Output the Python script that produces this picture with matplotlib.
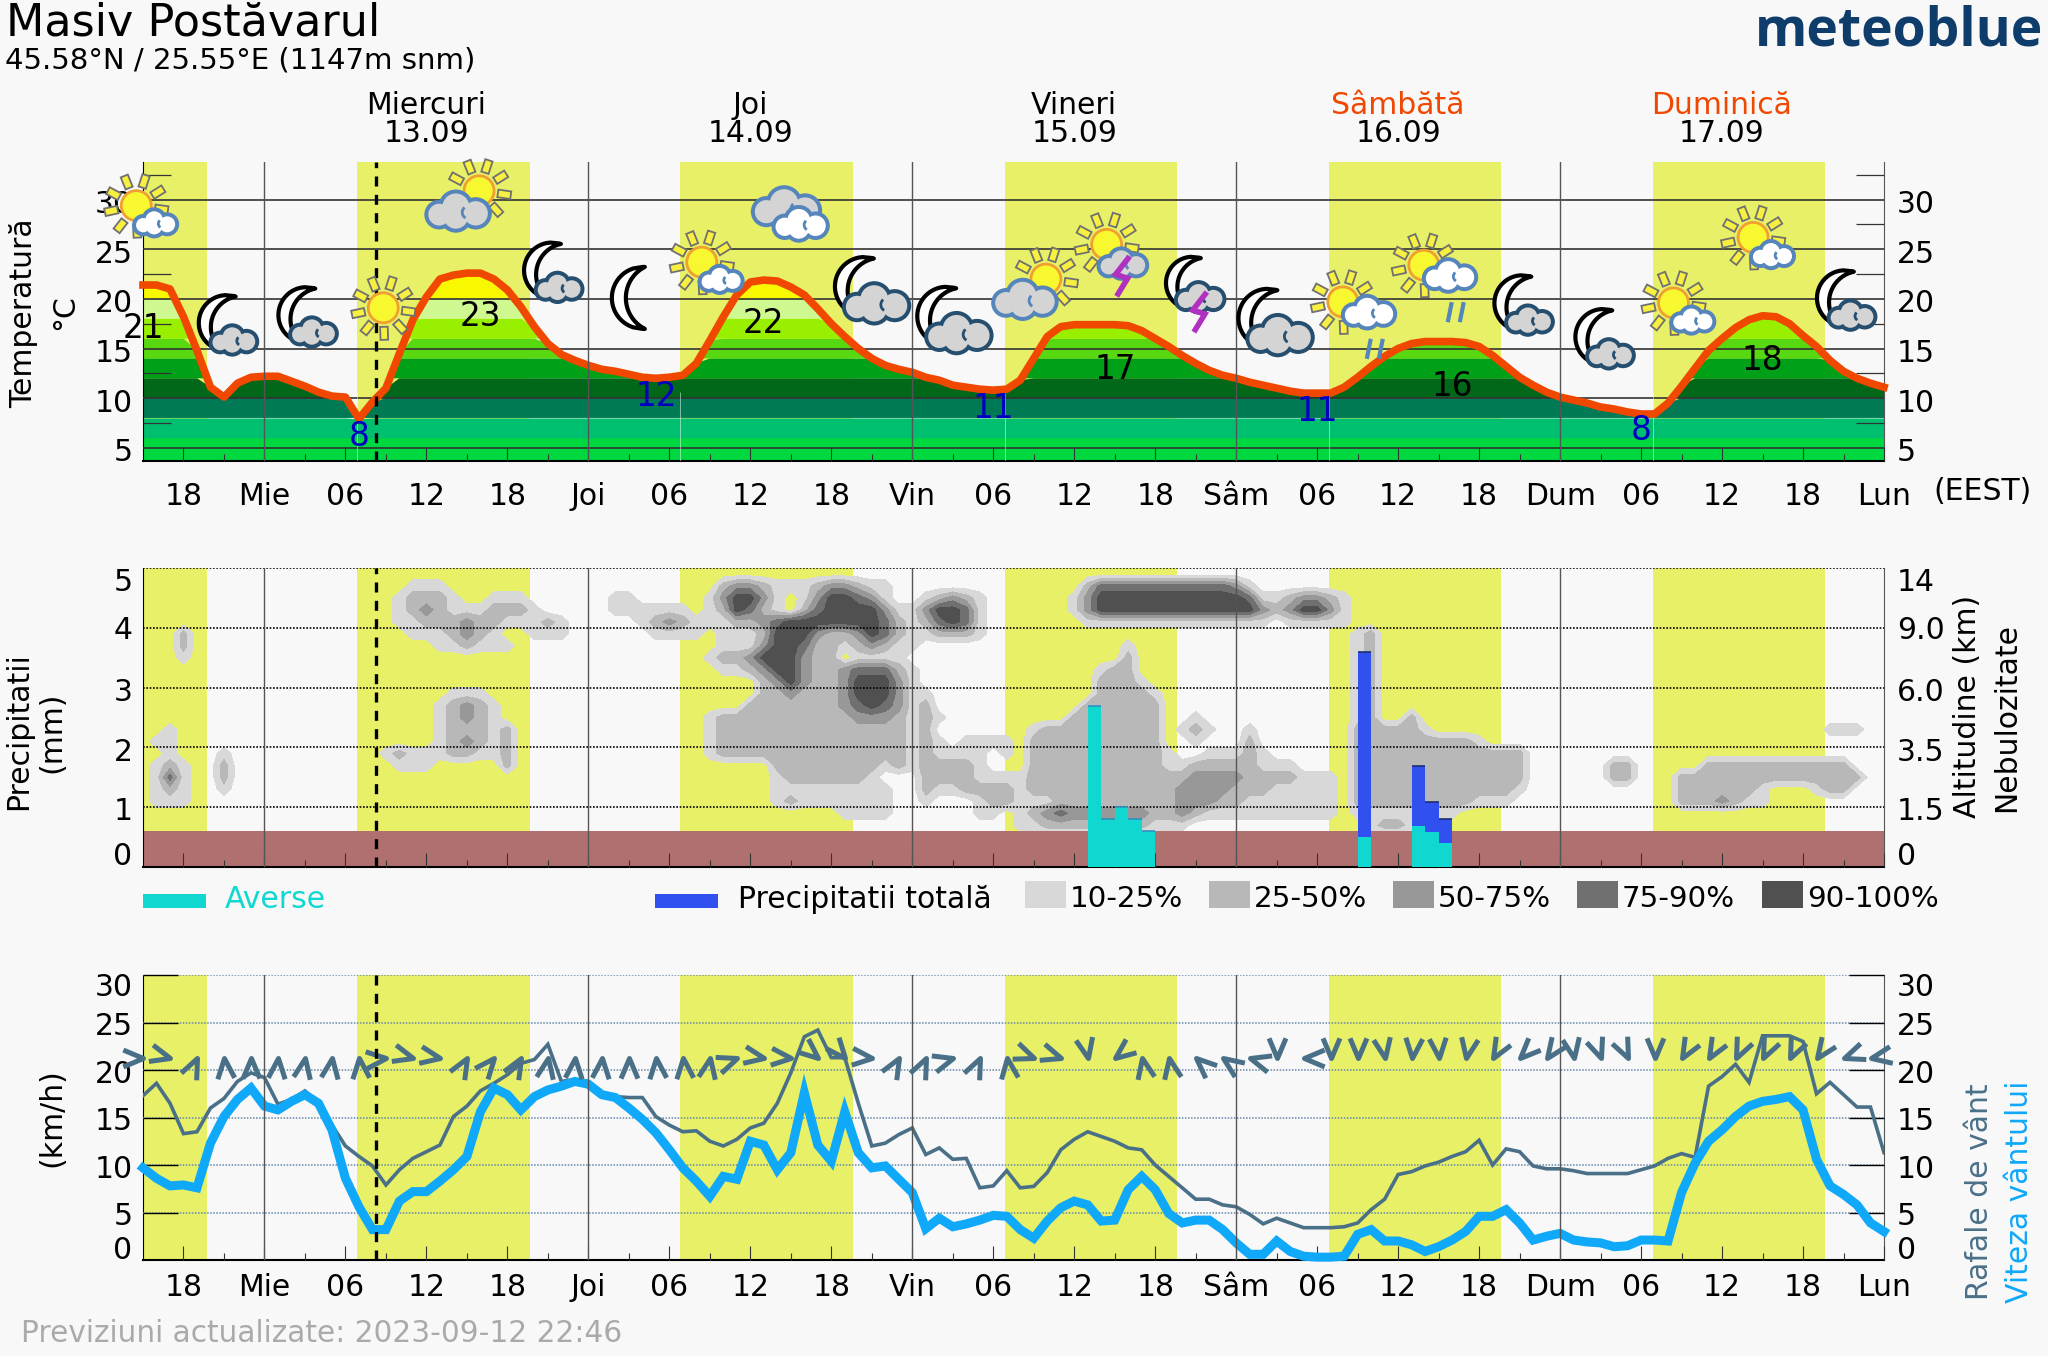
import numpy as np
import matplotlib
matplotlib.use('Agg')
import matplotlib.pyplot as plt
from matplotlib.markers import MarkerStyle
from matplotlib.patches import Arc, Circle, Polygon, Rectangle
from matplotlib.path import Path

# hours are counted from Wednesday 13.09 00:00
first_hour = -9
temp = [21.4, 21.4, 21.0, 18.2, 14.8, 11.1, 10.1, 11.5, 12.1, 12.2, 12.2, 11.7, 11.2, 10.6, 10.2, 10.1, 7.9, 9.6,
        11.0, 14.5, 17.9, 20.2, 22.0, 22.4, 22.6, 22.6, 22.0, 20.9, 19.2, 17.2, 15.5, 14.4, 13.8, 13.3, 12.9, 12.7,
        12.4, 12.1, 12.0, 12.1, 12.3, 13.5, 15.8, 18.2, 20.4, 21.7, 21.9, 21.8, 21.2, 20.4, 19.0, 17.5, 16.2, 15.0,
        14.0, 13.3, 12.9, 12.6, 12.1, 11.8, 11.3, 11.1, 10.9, 10.8, 10.9, 11.8, 14.0, 16.2, 17.2, 17.4, 17.4, 17.4,
        17.4, 17.3, 16.8, 16.0, 15.2, 14.3, 13.5, 12.8, 12.3, 12.0, 11.6, 11.3, 11.0, 10.7, 10.5, 10.5, 10.5, 11.1,
        12.1, 13.2, 14.2, 15.0, 15.5, 15.7, 15.7, 15.7, 15.6, 15.2, 14.3, 13.2, 12.1, 11.3, 10.6, 10.1, 9.8, 9.5,
        9.1, 8.9, 8.6, 8.4, 8.4, 9.5, 11.2, 13.0, 14.8, 16.0, 17.1, 17.9, 18.3, 18.2, 17.5, 16.3, 15.2, 13.8, 12.7,
        12.0, 11.5, 11.1]
gust = [17.3, 18.6, 16.5, 13.3, 13.5, 16.0, 17.0, 18.8, 19.7, 19.2, 16.4, 16.9, 17.8, 16.5, 14.2, 12.0, 10.9, 9.9,
        7.9, 9.5, 10.7, 11.4, 12.1, 15.1, 16.2, 17.8, 18.6, 19.5, 20.7, 21.1, 22.7, 18.8, 19.0, 18.8, 17.6, 17.2,
        17.1, 17.1, 15.1, 14.2, 13.5, 13.6, 12.5, 12.0, 12.7, 13.9, 14.4, 16.5, 19.7, 23.5, 24.2, 21.3, 21.3, 16.5,
        12.0, 12.3, 13.2, 13.9, 11.1, 11.8, 10.6, 10.7, 7.6, 7.8, 9.4, 7.6, 7.75, 9.2, 11.6, 12.7, 13.5, 13.0, 12.5,
        11.8, 11.6, 10.0, 8.8, 7.6, 6.4, 6.4, 5.8, 5.6, 4.8, 3.8, 4.4, 3.9, 3.4, 3.4, 3.4, 3.5, 3.9, 5.3, 6.4, 9.0,
        9.3, 9.9, 10.3, 10.9, 11.4, 12.6, 10.0, 11.7, 11.4, 9.9, 9.6, 9.6, 9.4, 9.1, 9.1, 9.1, 9.1, 9.5, 9.9, 10.7,
        11.2, 10.8, 18.3, 19.3, 20.6, 18.7, 23.6, 23.6, 23.6, 23.0, 17.5, 18.7, 17.4, 16.1, 16.1, 11.3]
wind = [9.7, 8.6, 7.8, 7.9, 7.6, 12.3, 15.1, 16.9, 18.1, 16.2, 15.8, 16.7, 17.4, 16.5, 13.7, 8.6, 5.6, 3.2, 3.2, 6.2,
        7.2, 7.2, 8.3, 9.5, 10.9, 15.6, 18.1, 17.4, 15.8, 17.2, 17.9, 18.3, 18.8, 18.5, 17.4, 17.1, 16.0, 14.8, 13.4,
        11.6, 9.7, 8.3, 6.7, 8.8, 8.5, 12.5, 12.1, 9.5, 11.3, 17.6, 12.1, 10.4, 15.6, 11.3, 9.7, 9.9, 8.5, 7.1, 3.3,
        4.4, 3.5, 3.8, 4.2, 4.7, 4.6, 3.2, 2.3, 4.1, 5.5, 6.2, 5.8, 4.1, 4.2, 7.4, 8.8, 7.4, 4.9, 3.9, 4.2, 4.2, 3.2,
        1.8, 0.6, 0.6, 2.0, 0.9, 0.4, 0.3, 0.3, 0.4, 2.7, 3.2, 2.0, 2.0, 1.6, 0.9, 1.4, 2.1, 3.0, 4.6, 4.6, 5.3, 3.9,
        2.1, 2.5, 2.8, 2.1, 1.9, 1.8, 1.4, 1.5, 2.1, 2.1, 2.0, 7.1, 10.2, 12.5, 13.7, 15.1, 16.2, 16.7, 16.9, 17.2,
        15.8, 10.6, 7.8, 6.9, 5.8, 3.9, 3.0]
# direction the chevrons point to, one every two hours from -9
wind_dir = [90, 105, 25, 355, 0, 5, 10, 8, 355, 85, 105, 100, 30, 40, 30, 10, 5, 5, 0, 355, 355, 10, 70, 100, 95, 130,
            140, 95, 30, 25, 74, 25, 353, 111, 108, 168, 232, 349, 350, 312, 305, 286, 180, 270, 180, 180, 170, 185,
            175, 190, 210, 225, 215, 170, 160, 155, 180, 210, 210, 205, 205, 205, 215, 250, 260]
wind_dir_level = 21.3

day_start = [-9, 6.84, 30.8, 54.9, 78.9, 102.9]
day_end = [-4.24, 19.64, 43.6, 67.6, 91.6, 115.6]
now_hour = 8.3
day_lines = [0, 24, 48, 72, 96]
hour_ticks = [-6, 0, 6, 12, 18, 24, 30, 36, 42, 48, 54, 60, 66, 72, 78, 84, 90, 96, 102, 108, 114, 120]
hour_labels = ['18', 'Mie', '06', '12', '18', 'Joi', '06', '12', '18', 'Vin', '06', '12', '18', 'Sâm', '06', '12', '18',
               'Dum', '06', '12', '18', 'Lun']
day_names = ['Miercuri', 'Joi', 'Vineri', 'Sâmbătă', 'Duminică']
day_dates = ['13.09', '14.09', '15.09', '16.09', '17.09']
day_colors = ['black', 'black', 'black', '#F04800', '#F04800']

temp_edges = [0, 6, 8, 10, 12, 14, 16, 18, 20, 40]
temp_colors = ['#00D840', '#00C070', '#007A55', '#006818', '#00A018', '#58D810', '#98F000', '#D0F890', '#F8F800']
max_hours = [-9, 16, 37, 63, 88, 111]
max_levels = [17.0, 18.2, 17.5, 12.9, 11.2, 13.8]
max_text = ['21', '23', '22', '17', '16', '18']
min_hours = [7, 29, 54, 78, 102]
min_levels = [6.18, 10.2, 9.0, 8.6, 6.7]
min_text = ['8', '12', '11', '11', '8']

bar_hours = [61, 62, 63, 64, 65, 81, 85, 86, 87]
precip_total = [2.7, 0.8, 1.0, 0.8, 0.6, 3.59, 1.69, 1.09, 0.8]
precip_showers = [2.7, 0.8, 1.0, 0.8, 0.6, 0.5, 0.69, 0.59, 0.4]
ground_top = 0.6

# cloud classes (0-5): altitude row, first hour, one digit per hour
cloud_cells = [
    (3.9, -6, "2"), (3.7, -6, "2"), (3.5, -6, "1"),
    (2.3, -7, "1"), (2.1, -8, "11"), (1.9, -7, "1"), (1.7, -8, "121"), (1.5, -8, "141"), (1.3, -8, "121"),
    (1.1, -8, "111"),
    (1.9, -3, "1"), (1.7, -3, "2"), (1.5, -3, "2"), (1.3, -3, "1"),
    (4.7, 11, "111"), (4.5, 10, "12221"), (4.5, 17, "111"), (4.3, 10, "12321"), (4.3, 15, "112221"),
    (4.1, 10, "1122232211121"), (3.9, 11, "1112321"), (3.9, 20, "111"), (3.7, 13, "112111"),
    (2.9, 14, "111"), (2.7, 13, "12321"), (2.5, 13, "12321"), (2.3, 13, "12221"), (2.3, 18, "2"),
    (2.1, 13, "123212"), (1.9, 9, "1211122112"), (1.7, 10, "111"), (1.7, 18, "2"),
    (4.5, 26, "11"), (4.3, 26, "111111"), (4.1, 28, "12321"), (3.9, 29, "1111"),
    (4.7, 34, "2332111233211"), (4.5, 33, "13553101355431"), (4.3, 33, "125421024555531"),
    (4.1, 33, "1122345555555421"), (3.9, 34, "111255532235421"), (3.7, 34, "111355422123211"),
    (3.5, 33, "122355532201111"), (3.3, 34, "112355322344421"), (3.1, 37, "235322355531"),
    (2.9, 37, "223222355531"), (2.9, 49, "1"), (2.7, 36, "22222223454312"),
    (2.5, 33, "122222222223332121"), (2.3, 33, "12222222222222212"), (2.1, 33, "122222222222222121"),
    (2.1, 52, "1111"), (1.9, 33, "12222222222222212111101"), (1.7, 38, "2222222212122221"),
    (1.5, 38, "12222221"), (1.5, 49, "22221111"), (1.3, 38, "111111111"), (1.3, 49, "21122221"),
    (1.1, 38, "121111111"), (1.1, 49, "1"), (1.1, 53, "1221"), (0.9, 43, "1111"), (0.9, 53, "11"),
    (4.5, 49, "12321"), (4.3, 48, "135541"), (4.1, 48, "124541"), (3.9, 49, "12221"),
    (4.7, 61, "2"), (4.7, 62, "4444444444"), (4.7, 72, "31"), (4.5, 60, "13"), (4.5, 62, "5555555555"),
    (4.5, 72, "541123321"), (4.3, 60, "13"), (4.3, 62, "5555555555"), (4.3, 72, "553235531"),
    (4.1, 61, "11111111111111"), (4.1, 76, "11111"),
    (3.7, 64, "1"), (3.5, 64, "2"), (3.3, 62, "122"), (3.1, 62, "2221"), (2.9, 62, "22221"), (2.7, 61, "222222"),
    (2.5, 60, "2222222"), (2.3, 57, "1222222222"), (2.1, 57, "2222222222"), (1.9, 57, "22222222221"),
    (1.7, 57, "222222222211"), (1.5, 57, "22222222222"), (1.3, 57, "22222222222"),
    (2.3, 73, "1"), (2.1, 73, "2"), (1.9, 70, "11121"), (1.7, 69, "22222111"), (1.5, 68, "233332222111"),
    (1.3, 68, "333322211111"), (1.1, 57, "11222222222333221111111"), (0.9, 56, "123433333322321111111111"),
    (0.7, 56, "1122222222111"),
    (2.5, 69, "1"), (2.3, 68, "121"), (2.1, 69, "1"),
    (3.9, 81, "12"), (3.7, 81, "12"), (3.5, 81, "12"), (3.3, 81, "12"), (3.1, 81, "12"), (2.9, 81, "12"),
    (2.7, 81, "12"), (2.5, 81, "12"), (2.5, 85, "2"), (2.3, 81, "222221"), (2.1, 81, "2222222221"),
    (1.9, 81, "2222222222222"), (1.7, 81, "2222222222222"), (1.5, 81, "2222222222222"),
    (1.3, 81, "2222222222221"), (1.1, 81, "222222222111"), (0.9, 81, "11111111"), (0.7, 82, "1221"),
    (1.7, 100, "22"), (1.5, 100, "22"),
    (1.7, 107, "22222222222"), (1.5, 105, "22222222222222"), (1.3, 105, "2222221"), (1.3, 115, "122"),
    (1.1, 105, "2223211"), (2.3, 116, "111"),
]
cloud_levels = [0.5, 1.5, 2.5, 3.5, 4.5, 6]
cloud_colors = ['#D8D8D8', '#B8B8B8', '#989898', '#707070', '#505050']
cloud_labels = ['10-25%', '25-50%', '50-75%', '75-90%', '90-100%']

# weather icons: hour, level on the temperature axis, kind
icon_hours = [-9.5, -3.7, 2.2, 8.8, 15.9, 20.4, 27, 32.4, 38.9, 43.5, 49.6, 57.9, 62.4, 67.9, 73.4, 79.9, 85.9, 92.3,
              98.3, 104.4, 110.3, 116.2]
icon_levels = [29.4, 17.9, 18.7, 19.1, 30.9, 23.2, 20.1, 23.7, 28.4, 21.6, 18.6, 22, 25.5, 21.9, 18.4, 19.7, 23.4, 19.9,
               16.5, 19.6, 26.2, 20.4]
icon_kinds = ['sun_white', 'moon_small', 'moon_small', 'sun', 'sun_gray', 'moon_small', 'moon', 'sun_white', 'clouds',
              'moon_big', 'moon_big', 'sun_gray', 'sun_storm', 'moon_storm', 'moon_big', 'sun_rain', 'sun_rain',
              'moon_small', 'moon_small', 'sun_white', 'sun_white', 'moon_small']

W, H = 2048, 1356
BG = '#F8F8F8'
YELLOW = '#E8F068'
BROWN = '#B07070'
DAY_BLUE = '#5585BB'
NIGHT_BLUE = '#264E6E'
GUST = '#4A7088'
WIND = '#10A8F8'
FS = 21.5

plt.rcParams['font.family'] = ['DejaVu Sans']
hours = np.arange(len(temp)) + first_hour
temp = np.array(temp)

fig = plt.figure(figsize=(W / 100, H / 100), dpi=100, facecolor=BG)


def px_axes(left, top, right, bottom):
    a = fig.add_axes([left / W, 1 - bottom / H, (right - left) / W, (bottom - top) / H], facecolor=BG)
    a.set_xlim(-9, 120)
    for hour0, hour1 in zip(day_start, day_end):
        a.axvspan(hour0, hour1, color=YELLOW, lw=0, zorder=0)
    for d in day_lines:
        a.axvline(d, color='#555555', lw=1, zorder=5)
    a.axvline(now_hour, color='black', lw=2.4, ls=(0, (3, 2.5)), zorder=6)
    a.set_xticks(hour_ticks)
    a.set_xticks(np.arange(-6, 121, 3), minor=True)
    a.tick_params(axis='x', which='major', direction='in', length=10, width=0.8, color='#333333', labelsize=FS, pad=15)
    a.tick_params(axis='x', which='minor', direction='in', length=5, width=0.8, color='#333333')
    a.spines['top'].set_visible(False)
    a.spines['left'].set_linewidth(0.8)
    a.spines['right'].set_linewidth(0.8)
    a.spines['right'].set_color('#555555')
    a.spines['bottom'].set_linewidth(1.5)
    a.set_axisbelow(False)
    return a


def side_labels(a, values, positions, labels_right=None):
    for v, p in zip(values, positions):
        a.text(-0.006, p, str(v), transform=a.get_yaxis_transform(), ha='right', va='center', fontsize=FS)
    for v, p in zip(labels_right if labels_right else values, positions):
        a.text(1.0075, p, str(v), transform=a.get_yaxis_transform(), ha='left', va='center', fontsize=FS)


# temperature
ax1 = px_axes(143, 162, 1884, 461)
ax1.set_ylim(3.66, 33.8)
for i, col in enumerate(temp_colors):
    lo, hi = temp_edges[i], temp_edges[i + 1]
    ax1.fill_between(hours, lo, np.minimum(temp, hi), where=temp > lo, interpolate=True, color=col, lw=0, zorder=2)
ax1.plot(hours, temp, color='#F04800', lw=5.5, zorder=4, solid_joinstyle='round', clip_on=False)
ax1.vlines(day_start[1:], 3.66, 10.6, color='white', lw=0.7, alpha=0.5, zorder=3)
ax1.set_yticks([5, 10, 15, 20, 25, 30])
ax1.set_yticks([7.5, 12.5, 17.5, 22.5, 27.5, 32.5], minor=True)
ax1.tick_params(axis='y', which='major', length=0, labelleft=False)
ax1.tick_params(axis='y', which='minor', direction='in', length=20, width=0.9, left=True, right=True, color='#333333')
ax1.grid(axis='y', which='major', color='#333333', lw=1.2, zorder=3)
ax1.set_xticklabels(hour_labels)
side_labels(ax1, [5, 10, 15, 20, 25, 30], [4.5, 9.5, 14.5, 19.5, 24.5, 29.5])
for h, lev, s in zip(max_hours, max_levels, max_text):
    ax1.text(h, lev, s, color='black', fontsize=23.5, ha='center', va='center', zorder=7, clip_on=False)
for h, lev, s in zip(min_hours, min_levels, min_text):
    ax1.text(h, lev, s, color='#0000C0', fontsize=23.5, ha='center', va='center', zorder=7)

# clouds and precipitation
ax2 = px_axes(143, 568, 1884, 867)
ax2.set_ylim(0, 5)
cloud_alt = np.round(np.arange(0.5, 5.0, 0.2), 1)
cloud_grid = np.zeros((len(cloud_alt), len(hours)))
for alt, start, digits in cloud_cells:
    row = int(round((alt - 0.5) / 0.2))
    for j, d in enumerate(digits):
        col = start - first_hour + j
        cloud_grid[row, col] = max(cloud_grid[row, col], int(d))
ax2.contourf(hours, cloud_alt, cloud_grid, levels=cloud_levels, colors=cloud_colors, zorder=1)
ax2.axhspan(0, ground_top, color=BROWN, lw=0, zorder=2)
bar_x = np.array(bar_hours) + 0.5
ax2.bar(bar_x, precip_total, width=1, color='#3050F0', lw=0, zorder=3)
ax2.bar(bar_x, precip_showers, width=1, color='#10D8D0', lw=0, zorder=4)
top_colors = ['#203070' if t > s else '#3090C0' for t, s in zip(precip_total, precip_showers)]
ax2.hlines(precip_total, bar_x - 0.5, bar_x + 0.5, colors=top_colors, lw=1.2, zorder=5)
ax2.set_yticks([1, 2, 3, 4, 5])
ax2.tick_params(axis='y', length=0, labelleft=False)
ax2.grid(axis='y', color='black', lw=1.2, ls=(0, (1, 1)), zorder=3)
ax2.tick_params(axis='x', which='major', labelbottom=False)
side_labels(ax2, [0, 1, 2, 3, 4, 5], [0.17, 0.92, 1.92, 2.92, 3.95, 4.75], ['0', '1.5', '3.5', '6.0', '9.0', '14'])

# wind
ax3 = px_axes(143, 975, 1884, 1260)
ax3.set_ylim(0, 30)
ax3.plot(hours, gust, color=GUST, lw=2.6, zorder=3, solid_joinstyle='miter')
ax3.plot(hours, wind, color=WIND, lw=6.5, zorder=4, clip_on=False, solid_joinstyle='miter')
chevron = Path([(-0.42, -1), (0, 0), (0.42, -1)], [Path.MOVETO, Path.LINETO, Path.LINETO])
dir_hours = np.arange(first_hour, 120, 2)
for h, a in zip(dir_hours, wind_dir):
    mk = MarkerStyle(chevron, fillstyle='none').rotated(deg=-a)
    ax3.plot([h], [wind_dir_level], marker=mk, ms=29, mew=3.6, mec=GUST, ls='none', zorder=5, clip_on=False)
ax3.set_yticks([5, 10, 15, 20, 25, 30])
ax3.tick_params(axis='y', direction='in', length=25, width=1, left=True, right=True, labelleft=False)
ax3.tick_params(axis='x', which='major', pad=9.5)
ax3.grid(axis='y', color='#6688AA', lw=1.1, ls=(0, (1, 1)), zorder=1)
ax3.set_xticklabels(hour_labels)
side_labels(ax3, [0, 5, 10, 15, 20, 25, 30], [1.05, 4.55, 9.5, 14.55, 19.5, 24.55, 28.65])

# overlay in pixels for the texts, legend and icons
ov = fig.add_axes([0, 0, 1, 1], zorder=10)
ov.set_xlim(0, W)
ov.set_ylim(H, 0)
ov.axis('off')

ov.text(6, 23, 'Masiv Postăvarul', fontsize=32, ha='left', va='center')
ov.text(5, 60, '45.58°N / 25.55°E (1147m snm)', fontsize=21, ha='left', va='center')
ov.text(2043, 31, 'meteoblue', fontsize=38.5, ha='right', va='center', color='#0F3D6B', family='Open Sans',
        fontweight='bold')
ov.text(1983, 492, '(EEST)', fontsize=FS, ha='center', va='center')
ov.text(21, 1333, 'Previziuni actualizate: 2023-09-12 22:46', fontsize=21.3, color='#AAAAAA', ha='left', va='center')

for i, (name, date, col) in enumerate(zip(day_names, day_dates, day_colors)):
    xc = ov.transData.inverted().transform(ax1.transData.transform((12 + 24 * i, 10)))[0]
    ov.text(xc, 106, name, fontsize=FS, color=col, ha='center', va='center')
    ov.text(xc, 134, date, fontsize=FS, ha='center', va='center')

ov.text(24, 313, 'Temperatură', fontsize=FS, rotation=90, ha='center', va='center')
ov.text(65, 312, '°C', fontsize=FS, rotation=90, ha='center', va='center')
ov.text(19, 731, 'Precipitatii', fontsize=FS, rotation=90, ha='center', va='center')
ov.text(52, 732, '(mm)', fontsize=FS, rotation=90, ha='center', va='center')
ov.text(52, 1118, '(km/h)', fontsize=FS, rotation=90, ha='center', va='center')
ov.text(1968, 706, 'Altitudine (km)', fontsize=FS, rotation=90, ha='center', va='center')
ov.text(2007, 718, 'Nebulozitate', fontsize=FS, rotation=90, ha='center', va='center')
ov.text(1979, 1192, 'Rafale de vânt', fontsize=FS, rotation=90, ha='center', va='center', color=GUST)
ov.text(2020, 1192, 'Viteza vântului', fontsize=FS, rotation=90, ha='center', va='center', color=WIND)

# legend
ov.add_patch(Rectangle((143, 894), 63, 14, fc='#10D8D0', ec='none'))
ov.text(225, 899, 'Averse', fontsize=FS, color='#10D8D0', ha='left', va='center')
ov.add_patch(Rectangle((655, 894), 63, 14, fc='#3050F0', ec='none'))
ov.text(738, 899, 'Precipitatii totală', fontsize=FS, ha='left', va='center')
for x0, col, s in zip([1025, 1209, 1393, 1577, 1762], cloud_colors, cloud_labels):
    ov.add_patch(Rectangle((x0, 881), 41, 27, fc=col, ec='none'))
    ov.text(x0 + 45, 899, s, fontsize=21.2, ha='left', va='center')


def draw_sun(cx, cy, r=15, rays=9):
    for k in range(rays):
        ang = np.deg2rad(k * 360 / rays + 8)
        ux, uy = np.cos(ang), np.sin(ang)
        vx, vy = -uy, ux
        r0, r1, w = r + 4, r + 17, 3.8
        pts = [(cx + ux * r0 + vx * w, cy + uy * r0 + vy * w), (cx + ux * r1 + vx * w, cy + uy * r1 + vy * w),
               (cx + ux * r1 - vx * w, cy + uy * r1 - vy * w), (cx + ux * r0 - vx * w, cy + uy * r0 - vy * w)]
        ov.add_patch(Polygon(pts, closed=True, fc='#F8F040', ec='#707070', lw=1.3))
    ov.add_patch(Circle((cx, cy), r, fc='#F8F830', ec='#F0A030', lw=2))


def draw_cloud(cx, cy, half_w, fill, edge):
    lobes = [(-0.62, 0.12, 0.34), (-0.1, -0.12, 0.42), (0.52, 0.08, 0.38), (-0.1, 0.18, 0.38)]
    e = 4
    for lx, ly, lr in lobes:
        ov.add_patch(Circle((cx + lx * half_w, cy + ly * half_w), lr * half_w + e, fc=edge, ec='none'))
    for lx, ly, lr in lobes:
        ov.add_patch(Circle((cx + lx * half_w, cy + ly * half_w), lr * half_w, fc=fill, ec='none'))
    ov.add_patch(Arc((cx + 0.3 * half_w, cy + 0.05 * half_w), 0.4 * half_w, 0.4 * half_w, theta1=120, theta2=230,
                     color=edge, lw=2))


def draw_moon(cx, cy, scale=1.0, tilt=0):
    y = np.linspace(-31, 31, 40)
    outer_x = 14 - np.sqrt(np.maximum(31 ** 2 - y ** 2, 0))
    inner_x = 31.8 - np.sqrt(np.maximum(34.8 ** 2 - y ** 2, 0))
    xs = np.r_[outer_x, inner_x[::-1]] * scale
    ys = np.r_[y, y[::-1]] * scale
    t = np.deg2rad(tilt)
    px = cx + xs * np.cos(t) - ys * np.sin(t)
    py = cy + xs * np.sin(t) + ys * np.cos(t)
    ov.add_patch(Polygon(np.c_[px, py], closed=True, fc='white', ec='black', lw=3, joinstyle='round'))


def draw_bolt(cx, cy):
    pts = [(cx + 8, cy - 20), (cx - 6, cy - 2), (cx + 6, cy + 2), (cx - 5, cy + 20)]
    ov.add_patch(Polygon(pts, closed=False, fill=False, ec='#B030C0', lw=4, joinstyle='miter'))


def draw_rain(cx, cy):
    for dx in (-6, 6):
        pts = [(cx + dx + 2, cy - 10), (cx + dx - 2, cy + 10)]
        ov.add_patch(Polygon(pts, closed=False, fill=False, ec=DAY_BLUE, lw=3))


def draw_icon(cx, cy, kind):
    if kind == 'sun':
        draw_sun(cx, cy)
    elif kind == 'moon':
        draw_moon(cx, cy)
    elif kind == 'sun_white':
        draw_sun(cx, cy)
        draw_cloud(cx + 20, cy + 17, 21, 'white', DAY_BLUE)
    elif kind == 'sun_gray':
        draw_sun(cx, cy)
        draw_cloud(cx - 20, cy + 20, 32, '#D4D4D4', DAY_BLUE)
    elif kind == 'clouds':
        draw_cloud(cx - 2, cy - 8, 34, '#D4D4D4', DAY_BLUE)
        draw_cloud(cx + 12, cy + 8, 27, 'white', DAY_BLUE)
    elif kind == 'moon_small':
        draw_moon(cx, cy, 0.9, 15)
        draw_cloud(cx + 20, cy + 20, 23, '#D4D4D4', NIGHT_BLUE)
    elif kind == 'moon_big':
        draw_moon(cx, cy, 0.95, 15)
        draw_cloud(cx + 26, cy + 20, 33, '#D4D4D4', NIGHT_BLUE)
    elif kind == 'sun_storm':
        draw_sun(cx, cy)
        draw_cloud(cx + 17, cy + 19, 24, '#D4D4D4', DAY_BLUE)
        draw_bolt(cx + 15, cy + 32)
    elif kind == 'moon_storm':
        draw_moon(cx, cy, 0.85, 15)
        draw_cloud(cx + 20, cy + 17, 24, '#D4D4D4', NIGHT_BLUE)
        draw_bolt(cx + 18, cy + 32)
    elif kind == 'sun_rain':
        draw_sun(cx, cy)
        draw_cloud(cx + 27, cy + 10, 26, 'white', DAY_BLUE)
        draw_rain(cx + 32, cy + 47)


for h, lev, kind in zip(icon_hours, icon_levels, icon_kinds):
    cx, cy = ov.transData.inverted().transform(ax1.transData.transform((h, lev)))
    draw_icon(cx, cy, kind)

fig.savefig('out.png', dpi=100, facecolor=BG)
